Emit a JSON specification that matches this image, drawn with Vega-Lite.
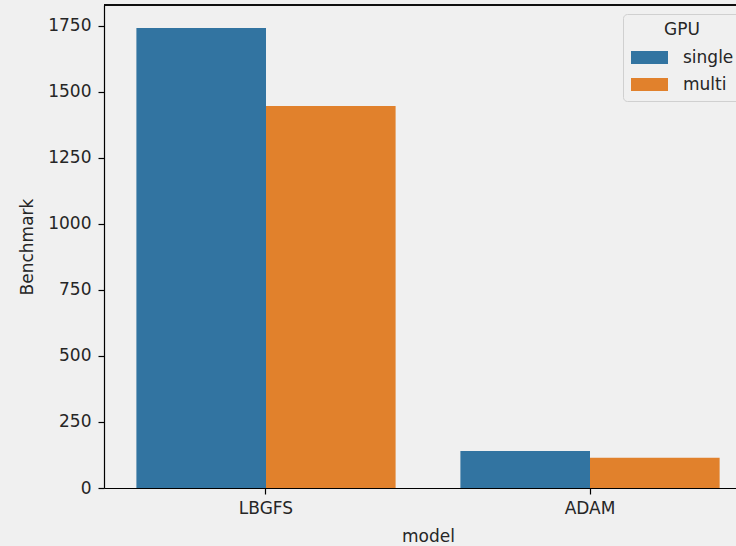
{
  "$schema": "https://vega.github.io/schema/vega-lite/v6.json",
  "width": 632,
  "height": 483,
  "autosize": {"type": "none"},
  "padding": {"left": 104, "top": 5, "right": 0, "bottom": 58},
  "background": "#f0f0f0",
  "config": {
    "view": {"stroke": null},
    "font": "DejaVu Sans",
    "axis": {
      "domainColor": "#000000",
      "tickColor": "#000000",
      "labelColor": "#262626",
      "titleColor": "#262626",
      "labelFontSize": 17,
      "titleFontSize": 17,
      "titleFontWeight": "normal",
      "tickSize": 6,
      "grid": false,
      "domainWidth": 1.2,
      "tickWidth": 1.2
    }
  },
  "data": {
    "values": [
      {"model": "LBGFS", "GPU": "single", "Benchmark": 1742},
      {"model": "LBGFS", "GPU": "multi", "Benchmark": 1447},
      {"model": "ADAM", "GPU": "single", "Benchmark": 140},
      {"model": "ADAM", "GPU": "multi", "Benchmark": 115}
    ]
  },
  "layer": [
    {
      "mark": {"type": "bar"},
      "encoding": {
        "x": {
          "field": "model",
          "type": "nominal",
          "sort": ["LBGFS", "ADAM"],
          "scale": {"range": [0, 648], "paddingInner": 0.2, "paddingOuter": 0.1},
          "axis": {"title": "model", "labelAngle": 0, "labelPadding": 6, "titlePadding": 12}
        },
        "xOffset": {
          "field": "GPU",
          "type": "nominal",
          "sort": ["single", "multi"],
          "scale": {"paddingInner": 0, "paddingOuter": 0}
        },
        "y": {
          "field": "Benchmark",
          "type": "quantitative",
          "scale": {"domain": [0, 1829], "nice": false},
          "axis": {"title": "Benchmark", "format": "d", "values": [0, 250, 500, 750, 1000, 1250, 1500, 1750], "labelPadding": 7, "titlePadding": 11}
        },
        "color": {
          "field": "GPU",
          "type": "nominal",
          "sort": ["single", "multi"],
          "scale": {"range": ["#3274a1", "#e1812c"]},
          "legend": {
            "orient": "none",
            "legendX": 519,
            "legendY": 9,
            "title": "GPU",
            "titleAnchor": "middle",
            "titleFontWeight": "normal",
            "titleFontSize": 17,
            "titleColor": "#262626",
            "titlePadding": 0,
            "labelFontSize": 17,
            "labelColor": "#262626",
            "labelOffset": 15,
            "symbolType": "M-1,-0.35H1V0.35H-1Z",
            "symbolSize": 1369,
            "symbolStrokeWidth": 0,
            "symbolOpacity": 1,
            "padding": 8,
            "rowPadding": 0,
            "strokeColor": "#d0d0d0",
            "fillColor": "#f0f0f0",
            "cornerRadius": 4
          }
        }
      }
    },
    {
      "mark": {"type": "rule", "color": "#000000", "strokeWidth": 1.2},
      "encoding": {"y": {"datum": 1829, "type": "quantitative"}}
    }
  ]
}
